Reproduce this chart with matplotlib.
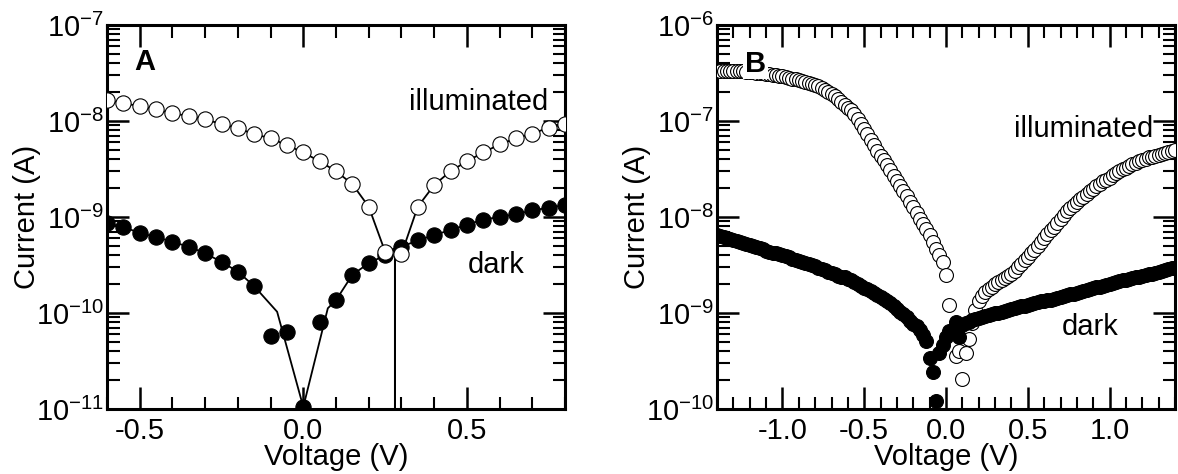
import matplotlib
matplotlib.use("Agg")
import matplotlib.pyplot as plt
import numpy as np
from matplotlib.ticker import (LogLocator, MultipleLocator, FormatStrFormatter,
                               FixedLocator, LogFormatterSciNotation, NullFormatter)

plt.rcParams.update({
    "font.family": ["Liberation Sans", "DejaVu Sans"],
    "mathtext.fontset": "custom",
    "mathtext.rm": "Liberation Sans",
    "mathtext.it": "Liberation Sans:italic",
    "mathtext.bf": "Liberation Sans:bold",
    "axes.unicode_minus": False,
})

# ---------------- Panel A: coarse sweep ----------------
volt_a = [-0.60, -0.55, -0.50, -0.45, -0.40, -0.35, -0.30, -0.25, -0.20, -0.15,
          -0.10, -0.05, 0.00, 0.05, 0.10, 0.15, 0.20, 0.25, 0.30, 0.35,
          0.40, 0.45, 0.50, 0.55, 0.60, 0.65, 0.70, 0.75, 0.80]
illum_a = [1.65e-8, 1.53e-8, 1.43e-8, 1.32e-8, 1.20e-8, 1.13e-8, 1.04e-8, 9.3e-9, 8.4e-9, 7.3e-9,
           6.6e-9, 5.6e-9, 4.7e-9, 3.8e-9, 3.0e-9, 2.2e-9, 1.28e-9, 4.36e-10, 4.1e-10, 1.28e-9,
           2.15e-9, 3.0e-9, 3.8e-9, 4.7e-9, 5.7e-9, 6.6e-9, 7.4e-9, 8.5e-9, 9.3e-9]
dark_a = [8.6e-10, 7.9e-10, 6.8e-10, 6.2e-10, 5.5e-10, 4.9e-10, 4.2e-10, 3.4e-10, 2.7e-10, 1.9e-10,
          5.7e-11, 6.3e-11, 1.05e-11, 8.1e-11, 1.36e-10, 2.5e-10, 3.3e-10, 4.0e-10, 4.9e-10, 5.7e-10,
          6.5e-10, 7.3e-10, 8.3e-10, 9.4e-10, 1.0e-9, 1.07e-9, 1.17e-9, 1.25e-9, 1.33e-9]

# connecting traces (the illuminated one drops to zero current at 0.28 V)
illum_line_v = [-0.60, -0.55, -0.50, -0.45, -0.40, -0.35, -0.30, -0.25, -0.20, -0.15,
                -0.10, -0.05, 0.00, 0.05, 0.10, 0.15, 0.20, 0.25, 0.28, 0.28, 0.28,
                0.30, 0.35, 0.40, 0.45, 0.50, 0.55, 0.60, 0.65, 0.70, 0.75, 0.80]
illum_line_i = [1.65e-8, 1.53e-8, 1.43e-8, 1.32e-8, 1.20e-8, 1.13e-8, 1.04e-8, 9.3e-9, 8.4e-9, 7.3e-9,
                6.6e-9, 5.6e-9, 4.7e-9, 3.8e-9, 3.0e-9, 2.2e-9, 1.28e-9, 4.36e-10, 4.7e-10, 1e-13, 4.7e-10,
                4.1e-10, 1.28e-9, 2.15e-9, 3.0e-9, 3.8e-9, 4.7e-9, 5.7e-9, 6.6e-9, 7.4e-9, 8.5e-9, 9.3e-9]
dark_line_v = [-0.60, -0.55, -0.50, -0.45, -0.40, -0.35, -0.30, -0.25, -0.20, -0.15,
               -0.08, 0.00, 0.075, 0.10, 0.15, 0.20, 0.25, 0.30, 0.35,
               0.40, 0.45, 0.50, 0.55, 0.60, 0.65, 0.70, 0.75, 0.80]
dark_line_i = [8.6e-10, 7.9e-10, 6.8e-10, 6.2e-10, 5.5e-10, 4.9e-10, 4.2e-10, 3.4e-10, 2.7e-10, 1.9e-10,
               1.03e-10, 1.05e-11, 1.12e-10, 1.36e-10, 2.5e-10, 3.3e-10, 4.0e-10, 4.9e-10, 5.7e-10,
               6.5e-10, 7.3e-10, 8.3e-10, 9.4e-10, 1.0e-9, 1.07e-9, 1.17e-9, 1.25e-9, 1.33e-9]
yticks_a = [1e-11, 1e-10, 1e-9, 1e-8, 1e-7]
xticks_a = [-0.5, 0.0, 0.5]

# ---------------- Panel B: fine sweep (log10 of current in A) ----------------
volt_b = [-1.40, -1.38, -1.36, -1.34, -1.32, -1.30, -1.28, -1.26, -1.24, -1.22,
          -1.20, -1.18, -1.16, -1.14, -1.12, -1.10, -1.08, -1.06, -1.04, -1.02,
          -1.00, -0.98, -0.96, -0.94, -0.92, -0.90, -0.88, -0.86, -0.84, -0.82,
          -0.80, -0.78, -0.76, -0.74, -0.72, -0.70, -0.68, -0.66, -0.64, -0.62,
          -0.60, -0.58, -0.56, -0.54, -0.52, -0.50, -0.48, -0.46, -0.44, -0.42,
          -0.40, -0.38, -0.36, -0.34, -0.32, -0.30, -0.28, -0.26, -0.24, -0.22,
          -0.20, -0.18, -0.16, -0.14, -0.12, -0.10, -0.08, -0.06, -0.04, -0.02,
          0.00, 0.02, 0.04, 0.06, 0.08, 0.10, 0.12, 0.14, 0.16, 0.18,
          0.20, 0.22, 0.24, 0.26, 0.28, 0.30, 0.32, 0.34, 0.36, 0.38,
          0.40, 0.42, 0.44, 0.46, 0.48, 0.50, 0.52, 0.54, 0.56, 0.58,
          0.60, 0.62, 0.64, 0.66, 0.68, 0.70, 0.72, 0.74, 0.76, 0.78,
          0.80, 0.82, 0.84, 0.86, 0.88, 0.90, 0.92, 0.94, 0.96, 0.98,
          1.00, 1.02, 1.04, 1.06, 1.08, 1.10, 1.12, 1.14, 1.16, 1.18,
          1.20, 1.22, 1.24, 1.26, 1.28, 1.30, 1.32, 1.34, 1.36, 1.38,
          1.40]
illum_b_log = [-6.48, -6.48, -6.48, -6.48, -6.48, -6.48, -6.48, -6.48, -6.48, -6.49,
               -6.49, -6.49, -6.50, -6.50, -6.50, -6.51, -6.51, -6.52, -6.52, -6.53,
               -6.53, -6.54, -6.55, -6.56, -6.56, -6.57, -6.58, -6.59, -6.60, -6.61,
               -6.63, -6.64, -6.66, -6.68, -6.70, -6.72, -6.74, -6.77, -6.80, -6.83,
               -6.86, -6.89, -6.93, -6.98, -7.03, -7.08, -7.14, -7.20, -7.25, -7.31,
               -7.36, -7.41, -7.46, -7.51, -7.57, -7.62, -7.68, -7.73, -7.78, -7.84,
               -7.90, -7.96, -8.02, -8.07, -8.13, -8.19, -8.26, -8.33, -8.40, -8.47,
               -8.60, -8.92, -9.20, -9.45, -9.40, -9.69, -9.42, -9.27, -9.10, -8.97,
               -8.88, -8.82, -8.78, -8.75, -8.73, -8.70, -8.68, -8.66, -8.64, -8.61,
               -8.59, -8.56, -8.52, -8.49, -8.45, -8.42, -8.38, -8.34, -8.30, -8.26,
               -8.22, -8.18, -8.14, -8.10, -8.06, -8.02, -7.98, -7.94, -7.91, -7.87,
               -7.84, -7.81, -7.79, -7.76, -7.73, -7.71, -7.68, -7.66, -7.63, -7.61,
               -7.59, -7.56, -7.54, -7.52, -7.50, -7.49, -7.47, -7.45, -7.44, -7.42,
               -7.41, -7.40, -7.38, -7.37, -7.36, -7.35, -7.34, -7.33, -7.32, -7.31,
               -7.30]
dark_b_log = [-8.19, -8.20, -8.21, -8.22, -8.23, -8.24, -8.25, -8.26, -8.27, -8.28,
              -8.29, -8.30, -8.31, -8.32, -8.33, -8.35, -8.36, -8.37, -8.38, -8.39,
              -8.40, -8.41, -8.42, -8.44, -8.45, -8.46, -8.47, -8.48, -8.49, -8.50,
              -8.51, -8.53, -8.54, -8.55, -8.57, -8.58, -8.59, -8.61, -8.62, -8.63,
              -8.65, -8.66, -8.68, -8.70, -8.72, -8.74, -8.75, -8.77, -8.79, -8.81,
              -8.83, -8.85, -8.87, -8.90, -8.93, -8.96, -8.99, -9.01, -9.04, -9.08,
              -9.11, -9.14, -9.18, -9.23, -9.29, -9.47, -9.61, -9.92, -9.42, -9.33,
              -9.25, -9.19, -9.20, -9.09, -9.25, -9.12, -9.10, -9.09, -9.07, -9.06,
              -9.05, -9.04, -9.03, -9.02, -9.01, -9.00, -9.00, -8.99, -8.98, -8.97,
              -8.96, -8.95, -8.94, -8.93, -8.93, -8.92, -8.91, -8.90, -8.89, -8.88,
              -8.87, -8.86, -8.86, -8.85, -8.84, -8.83, -8.82, -8.81, -8.80, -8.80,
              -8.79, -8.78, -8.77, -8.76, -8.75, -8.74, -8.73, -8.73, -8.72, -8.71,
              -8.70, -8.69, -8.68, -8.67, -8.66, -8.66, -8.65, -8.64, -8.63, -8.62,
              -8.61, -8.60, -8.59, -8.59, -8.58, -8.57, -8.56, -8.55, -8.54, -8.53,
              -8.53]
yticks_b = [1e-10, 1e-9, 1e-8, 1e-7, 1e-6]
xticks_b = [-1.0, -0.5, 0.0, 0.5, 1.0]

FS = 21
W, H = 1178, 474
fig = plt.figure(figsize=(W / 100, H / 100), dpi=100)
ax_a = fig.add_axes([107 / W, 1 - 409 / H, 458 / W, 384 / H])
ax_b = fig.add_axes([717 / W, 1 - 409 / H, 458 / W, 384 / H])


def style(ax, xlim, ylim, xticks, yticks):
    ax.set_yscale("log")
    ax.set_xlim(*xlim)
    ax.set_ylim(*ylim)
    ax.xaxis.set_major_locator(FixedLocator(xticks))
    ax.xaxis.set_minor_locator(MultipleLocator(0.1))
    ax.xaxis.set_major_formatter(FormatStrFormatter("%.1f"))
    ax.yaxis.set_major_locator(FixedLocator(yticks))
    ax.yaxis.set_minor_locator(LogLocator(base=10, subs=np.arange(2, 10), numticks=20))
    ax.yaxis.set_major_formatter(LogFormatterSciNotation())
    ax.yaxis.set_minor_formatter(NullFormatter())
    ax.tick_params(which="both", direction="in", top=True, right=True,
                   labelsize=FS)
    ax.tick_params(which="major", length=16, width=1.8)
    ax.tick_params(which="minor", length=9, width=1.5)
    ax.tick_params(axis="x", which="major", pad=6)
    ax.tick_params(axis="y", which="major", pad=2)
    for s in ax.spines.values():
        s.set_linewidth(2.2)
    ax.set_xlabel("Voltage (V)", fontsize=FS, labelpad=-2)
    ax.set_ylabel("Current (A)", fontsize=FS, labelpad=-4)


style(ax_a, (-0.6, 0.8), (1e-11, 1e-7), xticks_a, yticks_a)
style(ax_b, (-1.4, 1.4), (1e-10, 1e-6), xticks_b, yticks_b)

# Panel A
ax_a.plot(dark_line_v, dark_line_i, color="black", lw=1.3, zorder=2)
ax_a.plot(illum_line_v, illum_line_i, color="black", lw=1.3, zorder=2)
ax_a.plot(volt_a, dark_a, ls="none", marker="o", ms=11, mfc="black", mec="black",
          mew=0.8, zorder=3)
ax_a.plot(volt_a, illum_a, ls="none", marker="o", ms=11, mfc="white", mec="black",
          mew=0.8, zorder=4)
ax_a.text(0.06, 0.94, "A", transform=ax_a.transAxes, fontsize=FS,
          fontweight="bold", ha="left", va="top", zorder=6)
ax_a.text(0.963, 0.779, "illuminated", transform=ax_a.transAxes, fontsize=FS,
          ha="right", va="baseline", zorder=6)
ax_a.text(0.788, 0.354, "dark", transform=ax_a.transAxes, fontsize=FS,
          ha="left", va="baseline", zorder=6)

# Panel B
illum_b = np.power(10.0, illum_b_log)
dark_b = np.power(10.0, dark_b_log)
ax_b.plot(volt_b, illum_b, ls="none", marker="o", ms=10, mfc="white", mec="black",
          mew=0.8, zorder=3)
ax_b.plot(volt_b, dark_b, ls="none", marker="o", ms=10, mfc="black", mec="black",
          mew=0.8, zorder=4)
ax_b.text(0.061, 0.935, "B", transform=ax_b.transAxes, fontsize=FS,
          fontweight="bold", ha="left", va="top", zorder=6,
          bbox=dict(facecolor="white", edgecolor="none", pad=1.0))
ax_b.text(0.952, 0.708, "illuminated", transform=ax_b.transAxes, fontsize=FS,
          ha="right", va="baseline", zorder=6)
ax_b.text(0.753, 0.193, "dark", transform=ax_b.transAxes, fontsize=FS,
          ha="left", va="baseline", zorder=6)

fig.savefig("out.png", dpi=100)
